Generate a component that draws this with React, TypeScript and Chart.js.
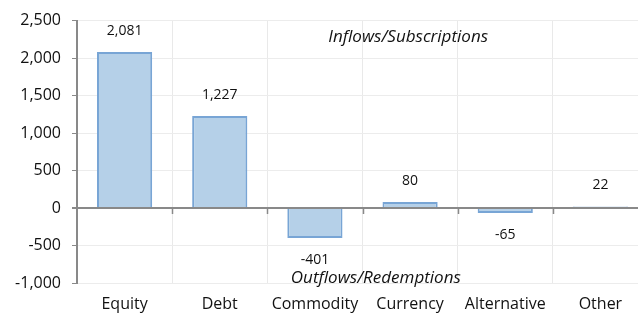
import React, { useEffect, useRef } from "react";
import { Chart, registerables } from "chart.js";

Chart.register(...registerables);

const categories = ["Equity", "Debt", "Commodity", "Currency", "Alternative", "Other"];
const flows = [2081, 1227, -401, 80, -65, 22];
const yTicks = [-1000, -500, 0, 500, 1000, 1500, 2000, 2500];
const inflowNote = "Inflows/Subscriptions";
const outflowNote = "Outflows/Redemptions";

const FONT = "'Open Sans', 'DejaVu Sans', sans-serif";

const fmt = (v: number) => v.toLocaleString("en-US");

const overlay = {
  id: "overlay",
  afterDatasetsDraw(chart: any) {
    const { ctx, scales } = chart;
    const x = scales.x;
    const y = scales.y;
    const y0 = y.getPixelForValue(0);
    ctx.save();
    ctx.strokeStyle = "#898989";
    ctx.lineWidth = 1.5;
    for (let i = 1; i < categories.length; i++) {
      const px = (x.getPixelForValue(i - 1) + x.getPixelForValue(i)) / 2;
      ctx.beginPath();
      ctx.moveTo(Math.round(px) + 0.5, y0);
      ctx.lineTo(Math.round(px) + 0.5, y0 + 6);
      ctx.stroke();
    }
    const meta = chart.getDatasetMeta(0);
    ctx.fillStyle = "#111";
    ctx.font = `14px ${FONT}`;
    ctx.textAlign = "center";
    ctx.textBaseline = "middle";
    meta.data.forEach((el: any, i: number) => {
      const v = flows[i];
      const ty = v >= 0 ? el.y - 21 : el.y + 22;
      ctx.fillText(fmt(v), el.x, ty);
    });
    ctx.font = `italic 17px ${FONT}`;
    ctx.fillText(inflowNote, x.getPixelForValue(2.98), y.getPixelForValue(2280));
    ctx.fillText(outflowNote, x.getPixelForValue(2.64), y.getPixelForValue(-935));
    ctx.restore();
  },
};

export default function App() {
  const ref = useRef<HTMLCanvasElement | null>(null);
  useEffect(() => {
    if (!ref.current) return;
    const chart = new Chart(ref.current, {
      type: "bar",
      data: {
        labels: categories,
        datasets: [
          {
            data: flows,
            backgroundColor: "rgb(181,208,232)",
            borderColor: "rgb(120,165,213)",
            borderWidth: 2,
            barPercentage: 0.58,
            categoryPercentage: 1,
          },
        ],
      },
      options: {
        responsive: false,
        animation: false,
        layout: { padding: { top: 9, right: 2, left: 0, bottom: 0 } },
        plugins: { legend: { display: false }, tooltip: { enabled: false } },
        scales: {
          x: {
            grid: { color: "#e9e9e9", drawTicks: false, offset: true },
            border: { display: false },
            ticks: { color: "#111", font: { size: 16, family: FONT }, padding: 12, maxRotation: 0 },
            afterFit: (s: any) => {
              s.height = 33;
            },
          },
          y: {
            min: -1000,
            max: 2500,
            afterBuildTicks: (s: any) => {
              s.ticks = yTicks.map((v) => ({ value: v }));
            },
            grid: {
              color: (c: any) => (c.tick && c.tick.value === 0 ? "#898989" : "#ececec"),
              lineWidth: (c: any) => (c.tick && c.tick.value === 0 ? 2 : 1),
              tickColor: "#898989",
              tickLength: 5,
            },
            border: { display: true, color: "#898989", width: 2 },
            ticks: {
              color: "#111",
              font: { size: 16, family: FONT },
              padding: 11,
              callback: (v: any) => fmt(Number(v)),
            },
            afterFit: (s: any) => {
              s.width = 77;
            },
          },
        },
      },
      plugins: [overlay],
    });
    return () => chart.destroy();
  }, []);
  return (
    <div style={{ position: "fixed", left: 0, top: 0, width: 638, height: 316, overflow: "hidden", background: "#fff" }}>
      <canvas ref={ref} width={650} height={316} style={{ display: "block" }} />
    </div>
  );
}
